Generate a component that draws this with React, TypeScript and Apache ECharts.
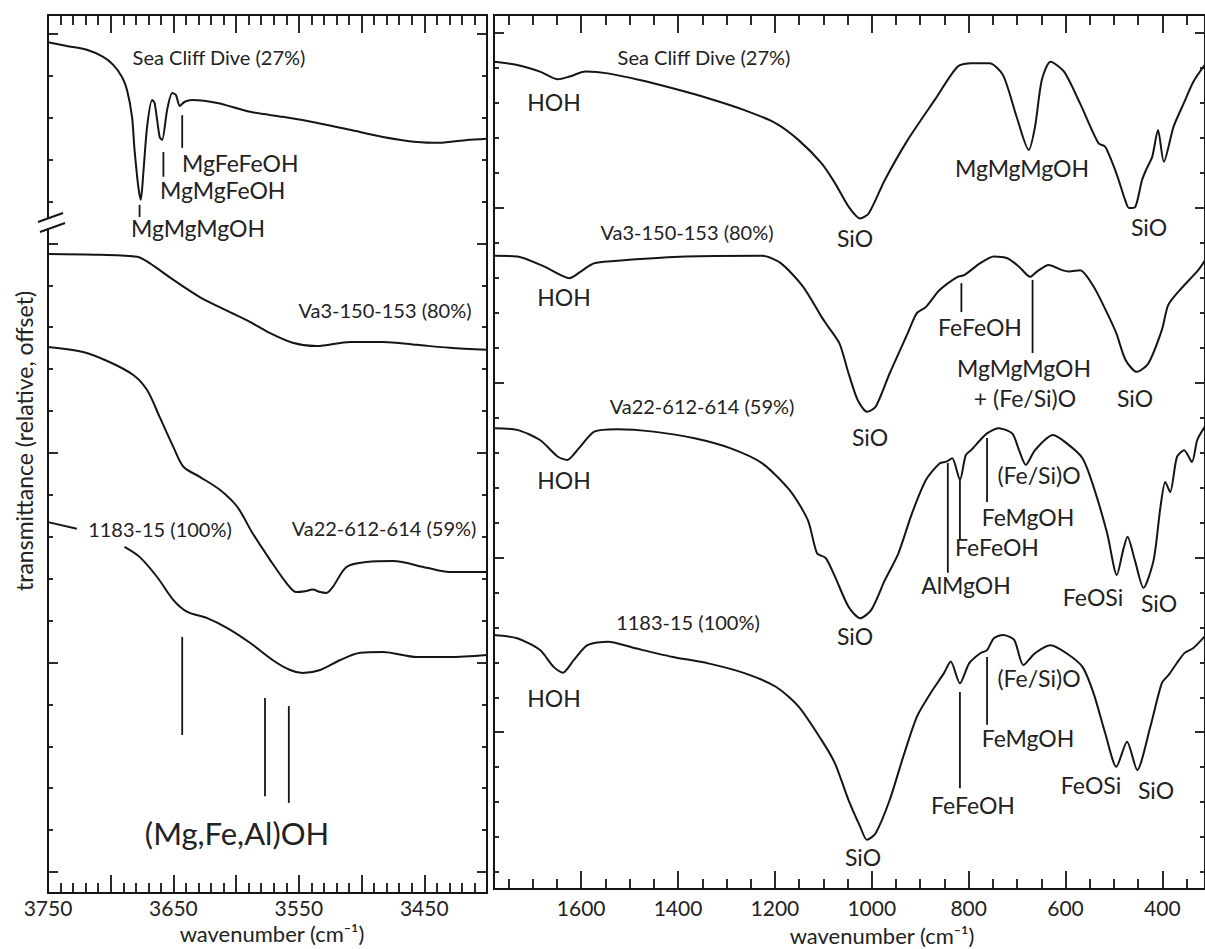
import React, { useEffect, useRef } from "react";
import * as echarts from "echarts";

type Pt = [number, number];

// ---------------- Left panel: O-H stretching region (wavenumber cm-1, relative transmittance) -------------
const ohSeaCliff: Pt[] = [
  [3750, 19.8], [3735, 19.71], [3719, 19.62], [3706, 19.45], [3698, 19.26], [3691, 18.97], [3687, 18.66],
  [3683, 18.02], [3681, 17.23], [3678, 16.35], [3676, 16.04], [3674, 16.68], [3671, 17.78], [3667, 18.42],
  [3665, 18.35], [3661, 17.54], [3659, 17.47], [3655, 18.19], [3651, 18.59], [3648, 18.54], [3645, 18.28],
  [3641, 18.38], [3635, 18.42], [3615, 18.35], [3589, 18.14], [3563, 18.02], [3536, 17.88], [3509, 17.71],
  [3483, 17.54], [3456, 17.42], [3438, 17.4], [3416, 17.47], [3400, 17.5],
];
const ohVa3: Pt[] = [
  [3750, 14.75], [3709, 14.73], [3679, 14.68], [3669, 14.53], [3650, 14.13], [3629, 13.72], [3607, 13.39],
  [3589, 13.13], [3575, 12.89], [3555, 12.63], [3536, 12.55], [3509, 12.65], [3483, 12.65], [3456, 12.58],
  [3430, 12.51], [3400, 12.46],
];
const ohVa22: Pt[] = [
  [3750, 12.53], [3722, 12.41], [3701, 12.17], [3682, 11.86], [3671, 11.5], [3661, 10.86], [3650, 10.14],
  [3642, 9.67], [3629, 9.43], [3613, 9.12], [3599, 8.71], [3587, 8.09], [3573, 7.45], [3560, 6.9],
  [3552, 6.68], [3545, 6.7], [3539, 6.74], [3533, 6.68], [3528, 6.66], [3523, 6.8], [3512, 7.28],
  [3496, 7.4], [3475, 7.42], [3448, 7.26], [3430, 7.16], [3400, 7.16],
];
const oh1183Lead: Pt[] = [[3750, 8.35], [3727, 8.19]];
const oh1183: Pt[] = [
  [3689, 7.76], [3677, 7.52], [3663, 7.04], [3650, 6.49], [3639, 6.21], [3623, 6.06], [3607, 5.82],
  [3589, 5.47], [3571, 5.06], [3557, 4.82], [3547, 4.75], [3533, 4.82], [3517, 5.06], [3501, 5.23],
  [3483, 5.25], [3456, 5.13], [3430, 5.13], [3400, 5.18],
];
const ohBandTicks: Pt[][] = [
  [[3677, 15.92], [3677, 15.63]],
  [[3658, 17.18], [3658, 16.59]],
  [[3643, 18.06], [3643, 17.28]],
  [[3643, 5.61], [3643, 3.27]],
  [[3577, 4.15], [3577, 1.81]],
  [[3558, 3.96], [3558, 1.65]],
];

// ---------------- Right panel: 1780-312 cm-1 region -------------
const siSeaCliff: Pt[] = [
  [1780, 23.18], [1732, 23.09], [1685, 22.9], [1648, 22.68], [1624, 22.76], [1591, 22.9], [1545, 22.85],
  [1479, 22.66], [1413, 22.43], [1338, 22.14], [1263, 21.8], [1198, 21.42], [1151, 20.94], [1104, 20.28],
  [1076, 19.71], [1048, 19.04], [1024, 18.7], [1006, 18.85], [973, 19.8], [926, 20.94], [870, 22.09],
  [823, 23.04], [795, 23.14], [757, 23.14], [729, 22.8], [701, 21.61], [676, 20.66], [663, 21.32],
  [649, 22.66], [631, 23.18], [603, 22.9], [570, 21.99], [532, 20.85], [518, 20.75], [495, 19.99],
  [477, 19.23], [469, 19.0], [456, 19.03], [442, 19.8], [432, 20.14], [421, 20.46], [409, 21.23],
  [397, 20.32], [377, 21.32], [356, 21.99], [336, 22.61], [312, 23.1],
];
const siVa3: Pt[] = [
  [1780, 17.63], [1732, 17.61], [1676, 17.32], [1624, 16.99], [1601, 17.18], [1573, 17.42], [1507, 17.51],
  [1385, 17.61], [1226, 17.63], [1188, 17.42], [1142, 16.75], [1104, 15.89], [1095, 15.7], [1067, 15.13],
  [1048, 14.27], [1029, 13.5], [1010, 13.17], [992, 13.31], [963, 14.27], [926, 15.41], [907, 15.99],
  [888, 16.17], [860, 16.65], [823, 17.03], [809, 17.08], [776, 17.42], [748, 17.61], [720, 17.56],
  [696, 17.32], [673, 17.03], [659, 17.18], [635, 17.37], [607, 17.22], [593, 17.18], [570, 17.22],
  [542, 16.75], [514, 15.99], [495, 15.41], [476, 14.65], [453, 14.31], [429, 14.55], [401, 15.51],
  [388, 16.22], [364, 16.65], [326, 17.22], [312, 17.5],
];
const siVa22: Pt[] = [
  [1780, 12.7], [1732, 12.65], [1685, 12.36], [1648, 11.88], [1629, 11.79], [1605, 12.12], [1573, 12.6],
  [1526, 12.67], [1451, 12.6], [1366, 12.41], [1291, 12.12], [1226, 11.69], [1170, 10.93], [1132, 10.07],
  [1113, 9.12], [1095, 8.98], [1076, 8.45], [1048, 7.59], [1024, 7.26], [1001, 7.5], [973, 8.35],
  [945, 9.12], [917, 10.26], [888, 11.22], [860, 11.69], [846, 11.74], [834, 11.84], [818, 11.22],
  [806, 11.93], [795, 12.07], [776, 12.36], [762, 12.55], [738, 12.7], [710, 12.55], [696, 12.07],
  [682, 11.65], [663, 12.07], [626, 12.5], [598, 12.27], [565, 11.84], [542, 11.02], [514, 9.69],
  [494, 8.5], [481, 9.21], [472, 9.59], [457, 8.93], [439, 8.13], [418, 8.93], [404, 10.44], [394, 11.16],
  [384, 10.87], [370, 11.87], [355, 12.07], [339, 11.73], [328, 12.36], [312, 12.75],
];
const si1183: Pt[] = [
  [1780, 6.78], [1732, 6.69], [1685, 6.35], [1657, 5.87], [1638, 5.7], [1615, 6.07], [1587, 6.49],
  [1545, 6.59], [1488, 6.4], [1413, 6.16], [1338, 5.97], [1263, 5.69], [1198, 5.3], [1151, 4.73],
  [1104, 3.78], [1076, 3.11], [1048, 2.06], [1024, 1.3], [1010, 0.92], [992, 1.11], [963, 2.06],
  [935, 3.3], [907, 4.44], [879, 5.11], [851, 5.69], [837, 6.02], [818, 5.4], [799, 5.97], [776, 6.26],
  [762, 6.35], [748, 6.69], [729, 6.78], [706, 6.64], [687, 5.92], [663, 6.26], [631, 6.49], [598, 6.26],
  [565, 5.87], [542, 5.11], [518, 3.97], [495, 3.01], [473, 3.73], [452, 2.92], [425, 4.15], [401, 5.41],
  [387, 5.64], [370, 5.98], [354, 6.27], [336, 6.41], [312, 6.75],
];
const siBandTicks: Pt[][] = [
  [[815, 16.85], [815, 16.02]],
  [[668, 16.94], [668, 14.85]],
  [[843, 11.7], [843, 8.56]],
  [[818, 11.22], [818, 9.5]],
  [[762, 12.42], [762, 10.59]],
  [[818, 5.15], [818, 2.4]],
  [[762, 6.15], [762, 4.21]],
];

// ---------------- Axis ticks & labels -------------
const leftXLabels = [3750, 3650, 3550, 3450];
const leftXMajor = [3450, 3500, 3550, 3600, 3650, 3700];
const rightXLabels = [1600, 1400, 1200, 1000, 800, 600, 400];
const rightXMajor = [400, 600, 800, 1000, 1200, 1400, 1600];
const leftYMajor = [0, 5, 10, 15, 20];
const rightYMajor = [4, 9, 14, 19, 24];

const range = (a: number, b: number, step: number, skip: number[]) => {
  const r: number[] = [];
  for (let v = a; v <= b + 1e-9; v += step) if (!skip.includes(v)) r.push(v);
  return r;
};
const leftXMinor = range(3410, 3740, 10, leftXMajor);
const rightXMinor = range(350, 1750, 50, rightXMajor);
const leftYMinor = range(0, 20, 1, leftYMajor);
const rightYMinor = range(0, 24, 1, rightYMajor);

// ---------------- Annotations -------------
const FONT = "Lato, 'Open Sans', sans-serif";
type Lab = [string, number, number, "s" | "p" | "b", ("left" | "center")?];
const labels: Lab[] = [
  ["Sea Cliff Dive (27%)", 219, 57, "s"],
  ["MgFeFeOH", 182, 163, "p", "left"],
  ["MgMgFeOH", 160, 190, "p", "left"],
  ["MgMgMgOH", 198, 228, "p"],
  ["Va3-150-153 (80%)", 385, 310, "s"],
  ["1183-15 (100%)", 160, 529, "s"],
  ["Va22-612-614 (59%)", 384, 528, "s"],
  ["(Mg,Fe,Al)OH", 237, 833, "b"],
  ["Sea Cliff Dive (27%)", 704, 57, "s"],
  ["HOH", 554, 102, "p"],
  ["SiO", 855, 238, "p"],
  ["MgMgMgOH", 1022, 168, "p"],
  ["SiO", 1149, 227, "p"],
  ["Va3-150-153 (80%)", 687, 232, "s"],
  ["HOH", 564, 297, "p"],
  ["FeFeOH", 980, 327, "p"],
  ["SiO", 870, 437, "p"],
  ["MgMgMgOH", 1024, 368, "p"],
  ["+ (Fe/Si)O", 1025, 398, "p"],
  ["SiO", 1135, 398, "p"],
  ["Va22-612-614 (59%)", 702, 406, "s"],
  ["HOH", 564, 480, "p"],
  ["(Fe/Si)O", 1039, 475, "p"],
  ["FeMgOH", 1028, 517, "p"],
  ["FeFeOH", 997, 547, "p"],
  ["AlMgOH", 966, 585, "p"],
  ["FeOSi", 1093, 597, "p"],
  ["SiO", 1159, 603, "p"],
  ["SiO", 855, 636, "p"],
  ["1183-15 (100%)", 688, 622, "s"],
  ["HOH", 554, 698, "p"],
  ["(Fe/Si)O", 1039, 678, "p"],
  ["FeMgOH", 1028, 738, "p"],
  ["FeFeOH", 973, 805, "p"],
  ["FeOSi", 1091, 785, "p"],
  ["SiO", 1156, 790, "p"],
  ["SiO", 863, 857, "p"],
];

const INK = "#151515";

function makeAxes(
  gridIndex: number,
  positions: [string, string],
  min: number,
  max: number,
  inverse: boolean,
  majors: number[],
  minors: number[],
  majorLen: number,
  minorLen: number,
  tickLabels?: number[],
  labelMargin?: number
) {
  const out: any[] = [];
  positions.forEach((position, pi) => {
    [true, false].forEach((isMajor) => {
      out.push({
        type: "value",
        gridIndex,
        position,
        min,
        max,
        inverse,
        axisLine: { show: isMajor, onZero: false, lineStyle: { color: INK, width: 2 } },
        axisTick: {
          show: true,
          inside: true,
          length: isMajor ? majorLen : minorLen,
          customValues: isMajor ? majors : minors,
          lineStyle: { color: INK, width: 1.8 },
        },
        axisLabel:
          pi === 0 && isMajor && tickLabels
            ? {
                show: true,
                customValues: tickLabels,
                margin: labelMargin,
                color: "#222",
                fontSize: 21,
                fontFamily: FONT,
                formatter: (v: number) => String(v),
              }
            : { show: false },
        splitLine: { show: false },
        splitArea: { show: false },
      });
    });
  });
  return out;
}

function curve(data: Pt[], xi: number, yi: number, smooth: number | boolean = 0.3, width = 2) {
  return {
    type: "line",
    data,
    xAxisIndex: xi,
    yAxisIndex: yi,
    showSymbol: false,
    symbol: "none",
    smooth,
    silent: true,
    lineStyle: { color: INK, width },
  };
}

export default function App() {
  const ref = useRef<HTMLDivElement>(null);
  useEffect(() => {
    if (!ref.current) return;
    const chart = echarts.init(ref.current, undefined, { renderer: "svg" });

    const xAxis = [
      ...makeAxes(0, ["bottom", "top"], 3400, 3750, true, leftXMajor, leftXMinor, 18, 10, leftXLabels, 4),
      ...makeAxes(1, ["bottom", "top"], 312, 1780, true, rightXMajor, rightXMinor, 18, 10, rightXLabels, 8),
    ];
    const yAxis = [
      ...makeAxes(0, ["left", "right"], -0.5, 20.45, false, leftYMajor, leftYMinor, 10, 5),
      ...makeAxes(1, ["left", "right"], -0.486, 24.52, false, rightYMajor, rightYMinor, 10, 5),
    ];

    const series: any[] = [
      curve(ohSeaCliff, 0, 0, 0.25),
      curve(ohVa3, 0, 0),
      curve(ohVa22, 0, 0),
      curve(oh1183Lead, 0, 0, false),
      curve(oh1183, 0, 0),
      ...ohBandTicks.map((d) => curve(d, 0, 0, false, 1.8)),
      curve(siSeaCliff, 4, 4, 0.25),
      curve(siVa3, 4, 4, 0.25),
      curve(siVa22, 4, 4, 0.25),
      curve(si1183, 4, 4, 0.25),
      ...siBandTicks.map((d) => curve(d, 4, 4, false, 1.8)),
    ];

    const styleFor = (k: string) =>
      k === "s"
        ? { fontSize: 20, scale: 1.0 }
        : k === "b"
        ? { fontSize: 31, scale: 1.0 }
        : { fontSize: 23, scale: 1.0 };

    const graphic: any[] = labels.map(([text, x, y, kind, align]) => {
      const st = styleFor(kind);
      return {
        type: "text",
        x,
        y,
        scaleX: st.scale,
        z: 100,
        silent: true,
        style: {
          text,
          fontSize: st.fontSize,
          fontFamily: FONT,
          fill: "#222",
          align: align || "center",
          verticalAlign: "middle",
        },
      };
    });
    graphic.push(
      {
        type: "text",
        x: 272,
        y: 933,
        z: 100,
        style: { text: "wavenumber (cm⁻¹)", fontSize: 22, fontFamily: FONT, fill: "#222", align: "center", verticalAlign: "middle" },
      },
      {
        type: "text",
        x: 882,
        y: 935,
        z: 100,
        style: { text: "wavenumber (cm⁻¹)", fontSize: 22, fontFamily: FONT, fill: "#222", align: "center", verticalAlign: "middle" },
      },
      {
        type: "text",
        x: 24,
        y: 441,
        rotation: Math.PI / 2,
        z: 100,
        style: {
          text: "transmittance (relative, offset)",
          fontSize: 23,
          fontFamily: FONT,
          fill: "#222",
          align: "center",
          verticalAlign: "middle",
        },
      },
      { type: "rect", z: 100, shape: { x: 44, y: 218, width: 9, height: 10 }, style: { fill: "#fff" } },
      { type: "line", z: 101, shape: { x1: 38, y1: 222, x2: 63, y2: 213 }, style: { stroke: INK, lineWidth: 2 } },
      { type: "line", z: 101, shape: { x1: 40, y1: 232, x2: 65, y2: 223 }, style: { stroke: INK, lineWidth: 2 } }
    );

    chart.setOption({
      animation: false,
      backgroundColor: "#ffffff",
      grid: [
        { left: 48, top: 15, width: 439, height: 878 },
        { left: 494, top: 15, width: 714, height: 874 },
      ],
      xAxis,
      yAxis,
      series,
      graphic,
    });
    return () => chart.dispose();
  }, []);

  return (
    <div
      ref={ref}
      style={{ position: "absolute", left: 0, top: 0, width: 1205, height: 949, background: "#fff" }}
    />
  );
}
